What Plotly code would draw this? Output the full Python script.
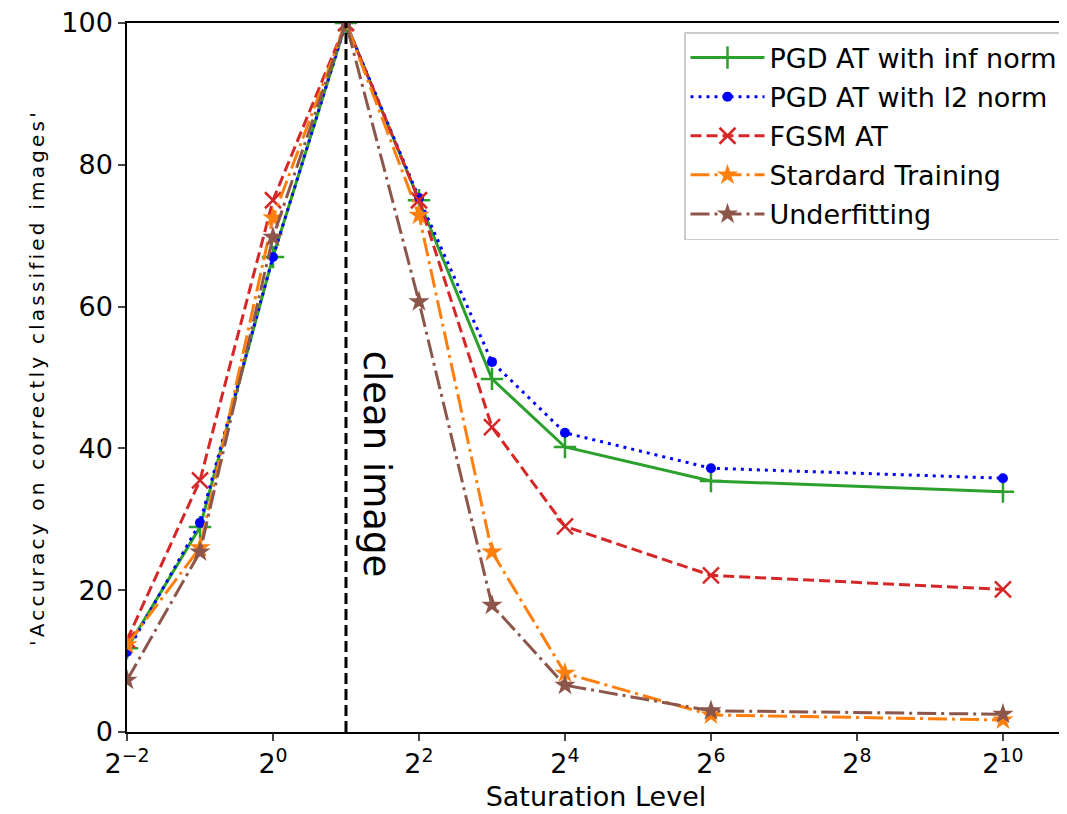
import math
import plotly.graph_objects as go

saturation = [0.25, 0.5, 1, 2, 4, 8, 16, 64, 1024]
pgd_inf = [11.8, 28.9, 67.0, 100, 75.0, 49.8, 40.2, 35.4, 33.9]
pgd_l2 = [11.3, 29.5, 67.0, 100, 75.3, 52.2, 42.2, 37.2, 35.8]
fgsm = [13.0, 35.5, 75.0, 100, 75.0, 43.0, 29.0, 22.1, 20.1]
standard = [12.3, 26.0, 72.5, 100, 72.9, 25.4, 8.3, 2.4, 1.7]
underfit = [7.3, 25.4, 69.8, 100, 60.7, 17.9, 6.6, 3.0, 2.5]

names = ["PGD AT with inf norm", "PGD AT with l2 norm", "FGSM AT",
         "Stardard Training", "Underfitting"]
tick_exps = [-2, 0, 2, 4, 6, 8, 10]
tick_vals = [2 ** e for e in tick_exps]
tick_text = ["2<sup>%s</sup>" % (str(e).replace("-", "\u2212")) for e in tick_exps]
y_ticks = [0, 20, 40, 60, 80, 100]
clean_x = 2

FONT = "DejaVu Sans"

series = [
    (pgd_inf, names[0], "#2ca02c", "solid", "cross-thin", 16, 2.5),
    (pgd_l2, names[1], "#0000ff", "3px,5px", "circle", 10, 0),
    (fgsm, names[2], "#d62728", "11px,5px", "x-thin", 16, 2.5),
    (standard, names[3], "#ff7f0e", "19px,5px,3px,5px", "star", 16, 0),
    (underfit, names[4], "#8c564b", "19px,5px,3px,5px", "star", 16, 0),
]

fig = go.Figure()
for i, (vals, name, color, dash, sym, size, mlw) in enumerate(series):
    fig.add_trace(go.Scatter(
        x=saturation, y=vals, name=name, mode="lines+markers",
        legendgroup="g%d" % i,
        line=dict(color=color, width=3, dash=dash),
        marker=dict(symbol=sym, size=size, color=color,
                    line=dict(color=color, width=mlw)),
    ))

fig.add_trace(go.Scatter(
    x=[clean_x, clean_x], y=[0, 100], mode="lines", showlegend=False,
    line=dict(color="black", width=3, dash="11px,5px"), hoverinfo="skip"))

fig.add_annotation(
    x=math.log10(clean_x), y=37.7, xref="x", yref="y", text="clean image",
    textangle=90, showarrow=False, xshift=30,
    font=dict(family=FONT, size=37, color="black"))

# page has an 8px body margin: figure is shifted by 8px right and down
fig.update_layout(
    width=1059, height=806,
    margin=dict(l=119, r=2, t=15, b=82, autoexpand=False),
    paper_bgcolor="white", plot_bgcolor="white",
    font=dict(family=FONT, size=27, color="black"),
    legend=dict(x=(676 - 119) / 938, y=1 - 9 / 709, xanchor="left", yanchor="top",
                bgcolor="rgba(255,255,255,0.8)", bordercolor="#cccccc",
                borderwidth=1.5, font=dict(size=27), traceorder="grouped",
                tracegroupgap=1, itemwidth=74),
    showlegend=True,
)
fig.update_xaxes(
    type="log", range=[math.log10(0.25), 10.85 * math.log10(2)],
    tickvals=tick_vals, ticktext=tick_text, ticks="outside", ticklen=7,
    tickwidth=1.5, showgrid=False, zeroline=False, showline=True,
    linecolor="black", linewidth=1.5, mirror=True, automargin=False,
    title=dict(text="Saturation Level", font=dict(size=27), standoff=9),
    tickfont=dict(size=27))
fig.update_yaxes(
    range=[0, 100], tickvals=y_ticks, ticks="outside", ticklen=7,
    tickwidth=1.5, showgrid=False, zeroline=False, showline=True,
    linecolor="black", linewidth=1.5, automargin=False,
    ticklabeloverflow="allow",
    title=dict(text="<span style=\"letter-spacing:3.2px\">'Accuracy on correctly classified images'</span>",
               font=dict(size=20), standoff=11),
    tickfont=dict(size=27))

fig.write_html("out.html")
